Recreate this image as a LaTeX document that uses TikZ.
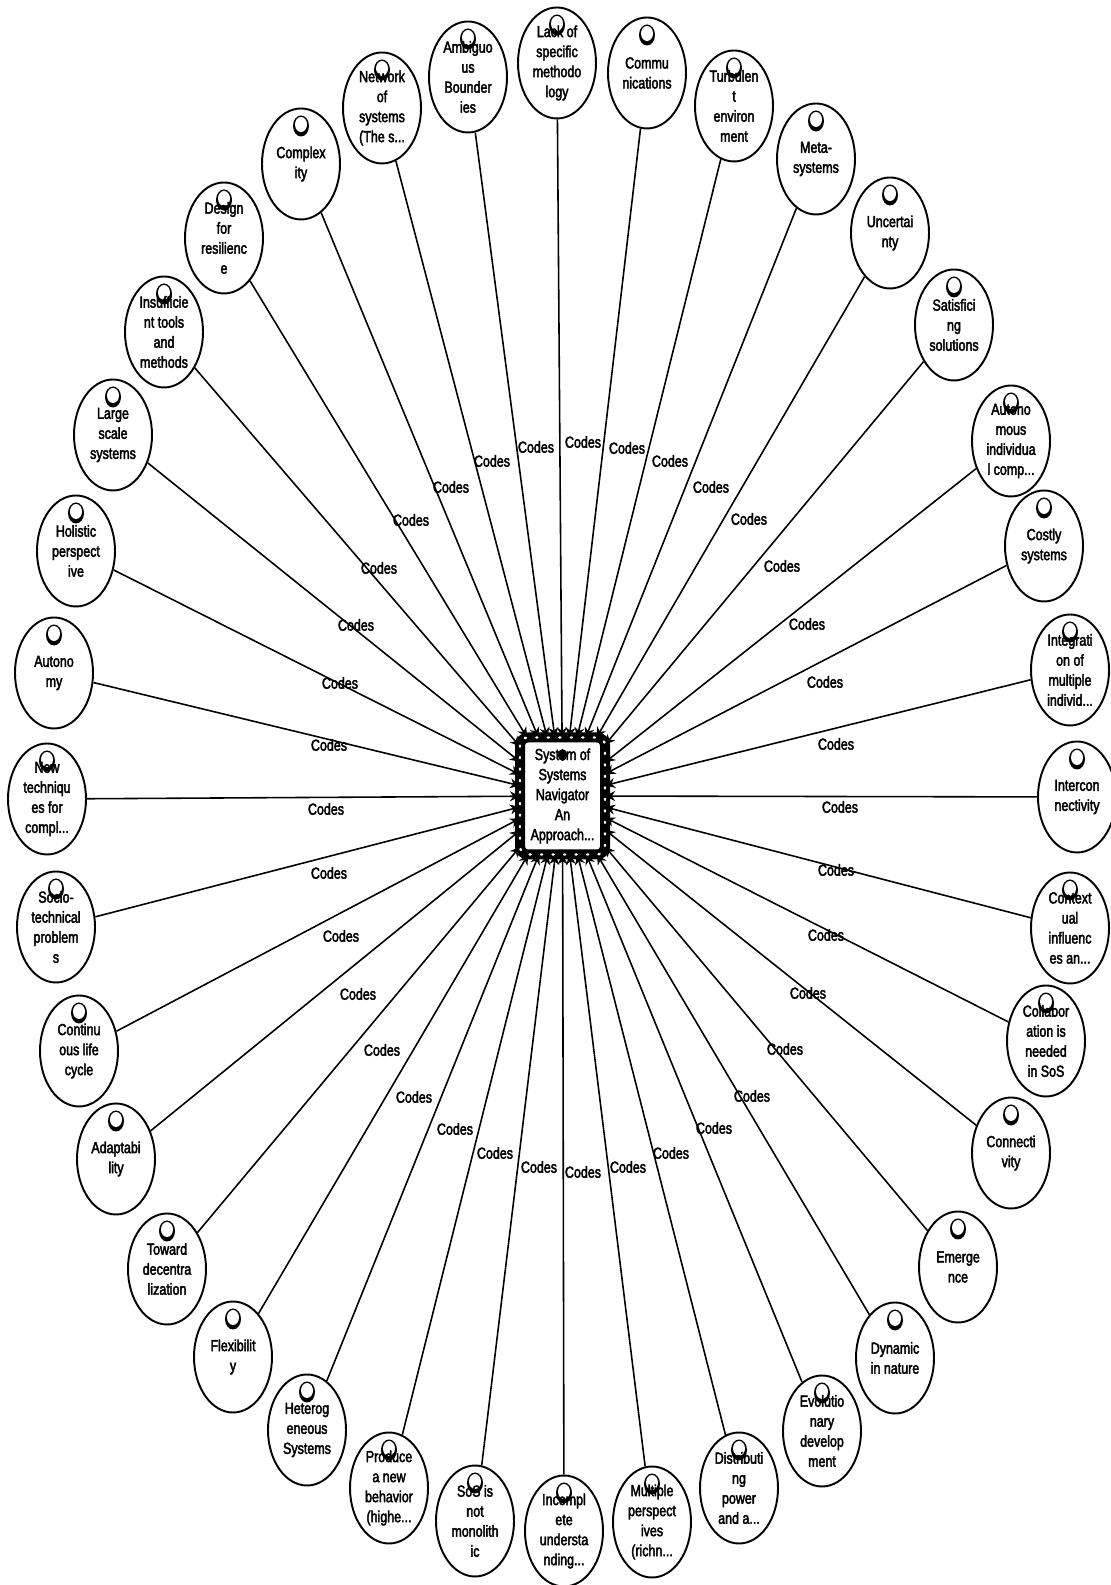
\documentclass[tikz,border=0pt]{standalone}
\usepackage{fontspec}
\setmainfont[FakeStretch=.78,FakeBold=2.5]{Liberation Sans}
\usetikzlibrary{arrows.meta,shapes}
\tikzset {>={Stealth[length=.1cm,width=.1cm]}}
\tikzset {codenode/.style={ellipse,draw,fill=white,line width=.55pt,inner sep=-.03cm,
    minimum width=.78cm,minimum height=1.11cm,align=center,
    font=\fontsize{4.55}{5.7}\selectfont,
    path picture={
      \fill[black] (path picture bounding box.center) ++(0,.38) ellipse (.08 and .105);
      \fill[white] (path picture bounding box.center) ++(0,.395) ellipse (.06 and .075);
    }}}
\tikzset {navnode/.style={rectangle,rounded corners=.08cm,draw,fill=white,line width=.1cm,outer sep=0pt,
    inner sep=0pt,minimum width=.85cm,minimum height=1.17cm,align=center,
    font=\fontsize{4.55}{5.7}\selectfont,
    path picture={
      \fill[black] (path picture bounding box.center) ++(0,.41) ellipse (.045 and .06);
    }}}
\tikzset {navdots/.style={white,line width=.024cm,line cap=round,dash pattern=on .012cm off .103cm}}
\tikzset {codeline/.style={->,line width=.45pt}}
\tikzset {codelabel/.style={inner sep=0pt,font=\fontsize{4.55}{5.7}\selectfont}}

\begin{document}
\begin{tikzpicture}
\useasboundingbox (0,0) rectangle (11.10,15.85);

\node[codenode] (lack) at (5.57,15.22) {Lack of\\specific\\methodo\\logy};
\node[codenode] (communications) at (6.47,15.12) {Commu\\nications};
\node[codenode] (turbulent) at (7.34,14.79) {Turbulen\\t\\environ\\ment};
\node[codenode] (meta) at (8.16,14.26) {Meta-\\systems};
\node[codenode] (uncertainty) at (8.90,13.52) {Uncertai\\nty};
\node[codenode] (satisficing) at (9.54,12.60) {Satisfici\\ng\\solutions};
\node[codenode] (autonomous) at (10.11,11.44) {Autono\\mous\\individua\\l comp...};
\node[codenode] (costly) at (10.44,10.39) {Costly\\systems};
\node[codenode] (integration) at (10.70,9.15) {Integrati\\on of\\multiple\\individ...};
\node[codenode] (interconnectivity) at (10.77,7.88) {Intercon\\nectivity};
\node[codenode] (contextual) at (10.70,6.57) {Context\\ual\\influenc\\es an...};
\node[codenode] (collaboration) at (10.46,5.44) {Collabor\\ation is\\needed\\in SoS};
\node[codenode] (connectivity) at (10.11,4.32) {Connecti\\vity};
\node[codenode] (emergence) at (9.58,3.18) {Emerge\\nce};
\node[codenode] (dynamic) at (8.95,2.27) {Dynamic\\in nature};
\node[codenode] (evolutionary) at (8.22,1.54) {Evolutio\\nary\\develop\\ment};
\node[codenode] (distributing) at (7.39,.97) {Distributi\\ng\\power\\and a...};
\node[codenode] (multiple) at (6.52,.63) {Multiple\\perspect\\ives\\(richn...};
\node[codenode] (incomplete) at (5.64,.54) {Incompl\\ete\\understa\\nding...};
\node[codenode] (monolithic) at (4.75,.64) {SoS is\\not\\monolith\\ic};
\node[codenode] (produce) at (3.89,.97) {Produce\\a new\\behavior\\(highe...};
\node[codenode] (heterogeneous) at (3.07,1.55) {Heterog\\eneous\\Systems};
\node[codenode] (flexibility) at (2.33,2.28) {Flexibilit\\y};
\node[codenode] (toward) at (1.67,3.16) {Toward\\decentra\\lization};
\node[codenode] (adaptability) at (1.16,4.26) {Adaptabi\\lity};
\node[codenode] (continuous) at (.79,5.34) {Continu\\ous life\\cycle};
\node[codenode] (socio) at (.56,6.58) {Socio-\\technical\\problem\\s};
\node[codenode] (techniques) at (.47,7.86) {New\\techniqu\\es for\\compl...};
\node[codenode] (autonomy) at (.54,9.12) {Autono\\my};
\node[codenode] (holistic) at (.76,10.34) {Holistic\\perspect\\ive};
\node[codenode] (large) at (1.13,11.50) {Large\\scale\\systems};
\node[codenode] (insufficient) at (1.64,12.53) {Insufficie\\nt tools\\and\\methods};
\node[codenode] (design) at (2.24,13.47) {Design\\for\\resilienc\\e};
\node[codenode] (complexity) at (3.01,14.21) {Complex\\ity};
\node[codenode] (network) at (3.82,14.77) {Network\\of\\systems\\(The s...};
\node[codenode] (ambiguous) at (4.68,15.08) {Ambiguo\\us\\Bounder\\ies};

\node[rectangle,minimum width=.85cm,minimum height=1.17cm,inner sep=0pt,outer sep=0pt] (navigator) at (5.625,7.89) {};

\draw[codeline] (lack) -- (navigator);
\draw[codeline] (communications) -- (navigator);
\draw[codeline] (turbulent) -- (navigator);
\draw[codeline] (meta) -- (navigator);
\draw[codeline] (uncertainty) -- (navigator);
\draw[codeline] (satisficing) -- (navigator);
\draw[codeline] (autonomous) -- (navigator);
\draw[codeline] (costly) -- (navigator);
\draw[codeline] (integration) -- (navigator);
\draw[codeline] (interconnectivity) -- (navigator);
\draw[codeline] (contextual) -- (navigator);
\draw[codeline] (collaboration) -- (navigator);
\draw[codeline] (connectivity) -- (navigator);
\draw[codeline] (emergence) -- (navigator);
\draw[codeline] (dynamic) -- (navigator);
\draw[codeline] (evolutionary) -- (navigator);
\draw[codeline] (distributing) -- (navigator);
\draw[codeline] (multiple) -- (navigator);
\draw[codeline] (incomplete) -- (navigator);
\draw[codeline] (monolithic) -- (navigator);
\draw[codeline] (produce) -- (navigator);
\draw[codeline] (heterogeneous) -- (navigator);
\draw[codeline] (flexibility) -- (navigator);
\draw[codeline] (toward) -- (navigator);
\draw[codeline] (adaptability) -- (navigator);
\draw[codeline] (continuous) -- (navigator);
\draw[codeline] (socio) -- (navigator);
\draw[codeline] (techniques) -- (navigator);
\draw[codeline] (autonomy) -- (navigator);
\draw[codeline] (holistic) -- (navigator);
\draw[codeline] (large) -- (navigator);
\draw[codeline] (insufficient) -- (navigator);
\draw[codeline] (design) -- (navigator);
\draw[codeline] (complexity) -- (navigator);
\draw[codeline] (network) -- (navigator);
\draw[codeline] (ambiguous) -- (navigator);

\node[navnode] (navbox) at (navigator) {System of\\Systems\\Navigator\\An\\Approach...};
\draw[navdots,rounded corners=.08cm] (navbox.north west) rectangle (navbox.south east);

\node[codelabel] (label0) at (5.83,11.43) {Codes};
\node[codelabel] (label10) at (6.27,11.37) {Codes};
\node[codelabel] (label20) at (6.70,11.24) {Codes};
\node[codelabel] (label30) at (7.11,10.98) {Codes};
\node[codelabel] (label40) at (7.49,10.66) {Codes};
\node[codelabel] (label50) at (7.82,10.19) {Codes};
\node[codelabel] (label60) at (8.07,9.61) {Codes};
\node[codelabel] (label70) at (8.25,9.03) {Codes};
\node[codelabel] (label80) at (8.36,8.41) {Codes};
\node[codelabel] (label90) at (8.40,7.78) {Codes};
\node[codelabel] (label100) at (8.36,7.15) {Codes};
\node[codelabel] (label110) at (8.26,6.50) {Codes};
\node[codelabel] (label120) at (8.08,5.92) {Codes};
\node[codelabel] (label130) at (7.85,5.36) {Codes};
\node[codelabel] (label140) at (7.52,4.89) {Codes};
\node[codelabel] (label150) at (7.14,4.57) {Codes};
\node[codelabel] (label160) at (6.71,4.32) {Codes};
\node[codelabel] (label170) at (6.28,4.18) {Codes};
\node[codelabel] (label180) at (5.83,4.13) {Codes};
\node[codelabel] (label190) at (5.39,4.18) {Codes};
\node[codelabel] (label200) at (4.95,4.32) {Codes};
\node[codelabel] (label210) at (4.55,4.56) {Codes};
\node[codelabel] (label220) at (4.14,4.88) {Codes};
\node[codelabel] (label230) at (3.82,5.35) {Codes};
\node[codelabel] (label240) at (3.58,5.91) {Codes};
\node[codelabel] (label250) at (3.41,6.49) {Codes};
\node[codelabel] (label260) at (3.29,7.12) {Codes};
\node[codelabel] (label270) at (3.26,7.76) {Codes};
\node[codelabel] (label280) at (3.29,8.40) {Codes};
\node[codelabel] (label290) at (3.40,9.02) {Codes};
\node[codelabel] (label300) at (3.56,9.60) {Codes};
\node[codelabel] (label310) at (3.79,10.17) {Codes};
\node[codelabel] (label320) at (4.11,10.65) {Codes};
\node[codelabel] (label330) at (4.51,10.98) {Codes};
\node[codelabel] (label340) at (4.92,11.24) {Codes};
\node[codelabel] (label350) at (5.36,11.38) {Codes};
\end{tikzpicture}
\end{document}
